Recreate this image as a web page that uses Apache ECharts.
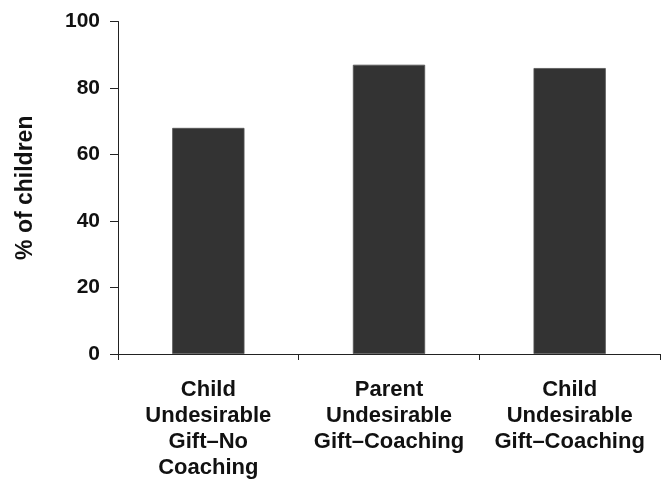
<!DOCTYPE html>
<html><head><meta charset="utf-8">
<script src="https://cdn.jsdelivr.net/npm/echarts@6/dist/echarts.min.js"></script>
<style>html,body{margin:0;padding:0;background:#fff}#c{width:665px;height:484px}</style>
</head><body><div id="c"></div>
<script>
const categories = ["Child\nUndesirable\nGift–No\nCoaching", "Parent\nUndesirable\nGift–Coaching", "Child\nUndesirable\nGift–Coaching"];
const values = [68, 87, 86];
const yTicks = [0, 20, 40, 60, 80, 100];

const font = "'Liberation Sans', Arial, Helvetica, sans-serif";
const chart = echarts.init(document.getElementById('c'));
chart.setOption({
  animation: false,
  grid: {left: 118, right: 5, top: 21.5, bottom: 130},
  xAxis: {
    type: 'category', data: categories,
    axisLine: {lineStyle: {color: '#222', width: 1}},
    axisTick: {show: true, length: 6, lineStyle: {color: '#222'}},
    axisLabel: {fontFamily: font, fontWeight: 'bold', fontSize: 22, color: '#111', lineHeight: 26, margin: 23, interval: 0}
  },
  yAxis: {
    type: 'value', min: yTicks[0], max: yTicks[yTicks.length-1], interval: 20,
    name: '% of children', nameLocation: 'middle', nameGap: 81, nameRotate: 90,
    nameTextStyle: {fontFamily: font, fontWeight: 'bold', fontSize: 23, color: '#111'},
    axisLine: {show: true, lineStyle: {color: '#222', width: 1}},
    axisTick: {show: true, length: 8, lineStyle: {color: '#222'}},
    splitLine: {show: false},
    axisLabel: {fontFamily: font, fontWeight: 'bold', fontSize: 21, color: '#111', margin: 18}
  },
  series: [{
    type: 'bar', data: values, barWidth: '40%',
    itemStyle: {color: '#333333', borderColor: '#555', borderWidth: 0.8}
  }]
});
</script></body></html>
